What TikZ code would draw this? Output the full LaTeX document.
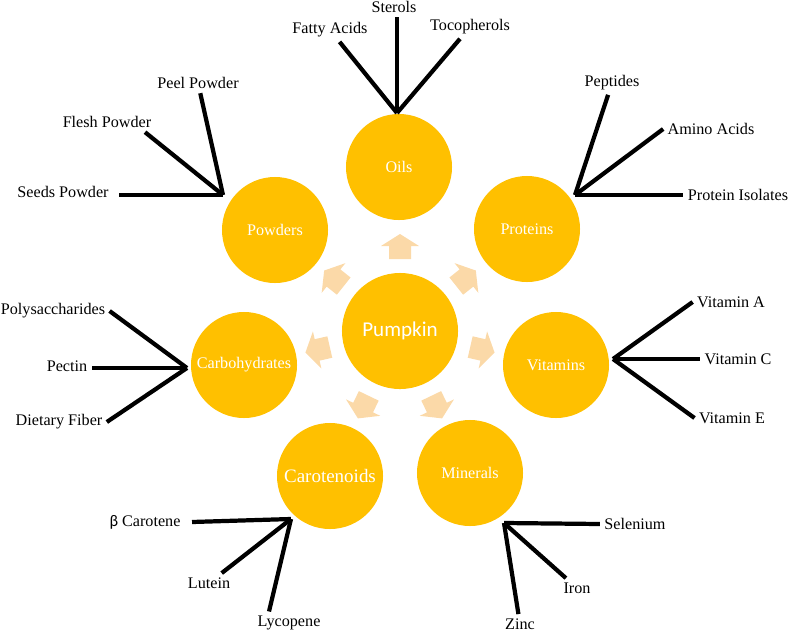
\documentclass[tikz,border=0pt]{standalone}
\usepackage{fontspec}
\setmainfont{Liberation Serif}
\newfontfamily\pumpkinfont{Carlito}
\definecolor{pumpkinorange}{RGB}{255,192,0}
\definecolor{arrowpeach}{RGB}{251,217,168}
\begin{document}
\begin{tikzpicture}[x=0.025cm,y=-0.025cm,
  group/.style={circle,fill=pumpkinorange,text=white,minimum size=2.65cm,inner sep=0pt,font=\fontsize{11.5}{13}\selectfont},
  leaf/.style={inner sep=3pt,font=\fontsize{11.5}{13}\selectfont},
  link/.style={line width=3pt}]
\useasboundingbox (0,0) rectangle (791,632);
% centre and groups
\node[group,minimum size=2.9cm,font=\pumpkinfont\fontsize{15}{18}\selectfont] (pumpkin) at (400,331) {Pumpkin};
\node[group] (oils) at (399,167) {Oils};
\node[group] (proteins) at (527,229) {Proteins};
\node[group] (vitamins) at (556,365) {Vitamins};
\node[group] (minerals) at (470,473) {Minerals};
\node[group,font=\fontsize{13.5}{15}\selectfont] (carotenoids) at (330,476) {Carotenoids};
\node[group] (carbs) at (244,365) {Carbohydrates};
\node[group] (powders) at (275,230) {Powders};
% block arrows
\foreach \a in {90,38.57,-12.86,-64.29,-115.71,-167.14,141.43}
  \fill[arrowpeach,shift={(pumpkin.center)},rotate=\a] (72,-11) -- (85,-11) -- (85,-19) -- (97,0) -- (85,19) -- (85,11) -- (72,11) -- cycle;
% oils
\coordinate (oilsJ) at (397,113);
\node[leaf] (fatty) at (330,30) {Fatty Acids};
\node[leaf] (sterols) at (394,7) {Sterols};
\node[leaf] (toco) at (470,27) {Tocopherols};
\draw[link] (oilsJ) -- (fatty);
\draw[link] (oilsJ) -- (oilsJ |- sterols.south);
\draw[link] (oilsJ) -- (toco);
% powders
\coordinate (powJ) at (223,195);
\node[leaf] (seeds) at (63,192) {Seeds Powder};
\node[leaf] (flesh) at (107,122) {Flesh Powder};
\node[leaf] (peel) at (198,83) {Peel Powder};
\draw[link] (powJ) -- ([xshift=4pt]seeds.east |- powJ);
\draw[link] (powJ) -- (flesh.-15);
\draw[link] (powJ) -- (peel);
% proteins
\coordinate (protJ) at (575,195);
\node[leaf] (peptides) at (612,83) {Peptides};
\node[leaf] (amino) at (711,129) {Amino Acids};
\node[leaf] (isolates) at (738,195) {Protein Isolates};
\draw[link] (protJ) -- (peptides);
\draw[link] (protJ) -- (amino.west);
\draw[link] (protJ) -- (isolates.west |- protJ);
% vitamins
\coordinate (vitJ) at (613,359);
\node[leaf] (vitA) at (731,302) {Vitamin A};
\node[leaf] (vitC) at (738,359) {Vitamin C};
\node[leaf] (vitE) at (732,418) {Vitamin E};
\draw[link] (vitJ) -- (vitA.west);
\draw[link] (vitJ) -- (vitC.west |- vitJ);
\draw[link] (vitJ) -- (vitE.west);
% carbohydrates
\coordinate (carbJ) at (187,368);
\node[leaf] (poly) at (53,311) {Polysaccharides};
\node[leaf] (pectin) at (67,366) {Pectin};
\node[leaf] (fiber) at (59,422) {Dietary Fiber};
\draw[link] (carbJ) -- (poly.east);
\draw[link] (carbJ) -- (pectin.east |- carbJ);
\draw[link] (carbJ) -- (fiber.east);
% carotenoids
\coordinate (carJ) at (291,519);
\node[leaf] (beta) at (145,522) {{\pumpkinfont β} Carotene};
\node[leaf] (lutein) at (209,583) {Lutein};
\node[leaf] (lycopene) at (289,623) {Lycopene};
\draw[link] (carJ) -- ([xshift=5pt]beta.east);
\draw[link] (carJ) -- (lutein);
\draw[link] (carJ) -- (lycopene.150);
% minerals
\coordinate (minJ) at (504,523);
\node[leaf] (selenium) at (635,524) {Selenium};
\node[leaf] (iron) at (577,588) {Iron};
\node[leaf] (zinc) at (520,624) {Zinc};
\draw[link] (minJ) -- (selenium.west);
\draw[link] (minJ) -- (iron);
\draw[link] (minJ) -- (zinc);
\end{tikzpicture}
\end{document}
